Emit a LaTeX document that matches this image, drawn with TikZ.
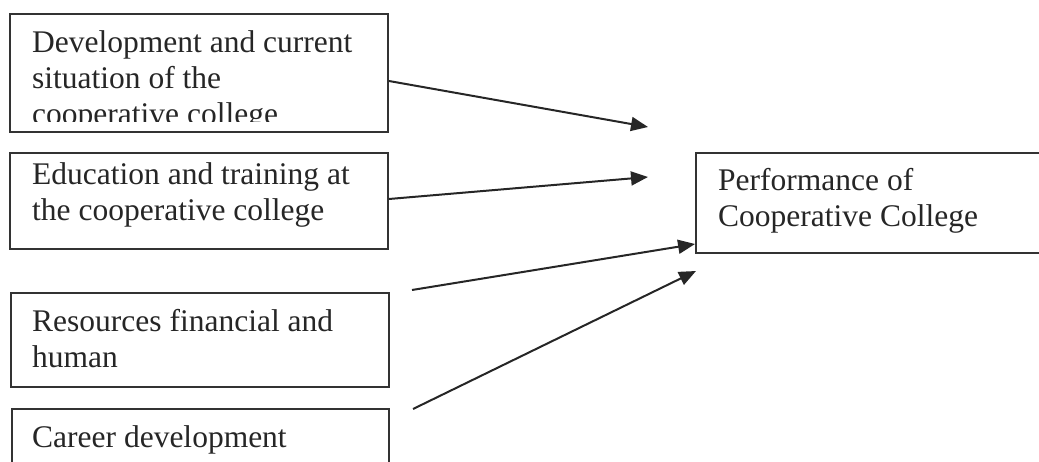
\documentclass[tikz,border=0pt]{standalone}
\usepackage{fontspec}
\setmainfont{Liberation Serif}
\usetikzlibrary{arrows.meta}

\begin{document}
\begin{tikzpicture}[x=1pt,y=-1pt]
\tikzstyle{every node}+=[inner sep=0pt]
\tikzstyle{factor}=[draw=black!80, line width=1.9pt, rectangle]
\tikzstyle{words}=[anchor=base west, align=left, text=black!85, font=\fontsize{31.5}{36}\selectfont]
\tikzstyle{link}=[draw=black!85, line width=2pt, -{Triangle[length=17pt,width=14pt]}]
\useasboundingbox (0,0) rectangle (1039,462);
\clip (0,0) rectangle (1039,462);
\node [factor, minimum width=378, minimum height=118] (dev) at (199,73) {};
\node [factor, minimum width=378, minimum height=96] (edu) at (199,201) {};
\node [factor, minimum width=378, minimum height=94] (res) at (200,340) {};
\node [factor, minimum width=377, minimum height=94] (car) at (200.5,456) {};
\node [factor, minimum width=384, minimum height=100] (perf) at (888,203) {};
\begin{scope}
\clip (0,0) rectangle (400,122);
\node [words] (devtext) at (32,125) {Development and current\\situation of the\\cooperative college};
\end{scope}
\node [words] (edutext) at (32,221) {Education and training at\\the cooperative college};
\node [words] (restext) at (32,367) {Resources financial and\\human};
\node [words] (cartext) at (32,447) {Career development};
\node [words] (perftext) at (718,227) {Performance of\\Cooperative College};
\coordinate (t1) at (648,127);
\coordinate (t2) at (648,177);
\coordinate (s3) at (412,290);
\coordinate (s4) at (413,409);
\coordinate (t4) at (696,271);
\draw [link] ([yshift=-8]dev.east) -- (t1);
\draw [link] ([yshift=2]edu.east) -- (t2);
\draw [link] (s3) -- ([yshift=-41]perf.west);
\draw [link] (s4) -- (t4);
\end{tikzpicture}
\end{document}
